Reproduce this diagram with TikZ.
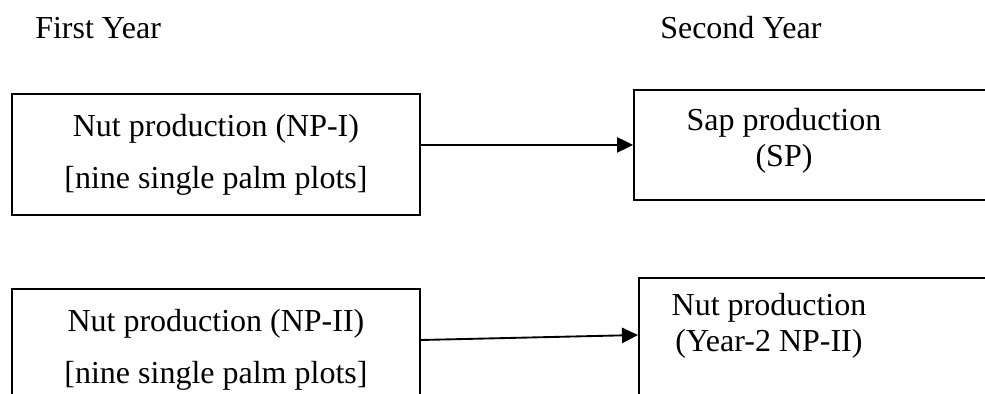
\documentclass[tikz,border=0pt]{standalone}
\usepackage{fontspec}
\setmainfont{Liberation Serif}
\usetikzlibrary{arrows.meta, calc}

\begin{document}
\begin{tikzpicture}[x=0.75pt, y=-0.75pt, >={Triangle[length=12pt, width=11.5pt]},
    box/.style={draw, line width=1.4pt, inner sep=0pt, anchor=north west},
    wide/.style={font=\fontsize{24}{39}\selectfont, align=center},
    tight/.style={font=\fontsize{24}{27}\selectfont, align=center, inner sep=0pt, anchor=base},
    head/.style={font=\fontsize{24}{29}\selectfont, inner sep=0pt, anchor=base west}]
    \useasboundingbox (0,0) rectangle (985,393);
    \clip (0,0) rectangle (985,393);

    % Year headings
    \node[head] (first) at (35,38) {First Year};
    \node[head] (second) at (660,38) {Second Year};

    % First year plots
    \node[box, wide, minimum width=306pt, minimum height=90.75pt] (np1) at (11,93)
        {Nut production (NP-I)\\{[}nine single palm plots{]}};
    \node[box, wide, minimum width=306pt, minimum height=90.75pt] (np2) at (11,288)
        {Nut production (NP-II)\\{[}nine single palm plots{]}};

    % Second year plots
    \node[box, minimum width=276pt, minimum height=82.5pt] (sp) at (633,89) {};
    \node[tight] (sptext) at (784,166) {Sap production\\(SP)};
    \node[box, minimum width=272pt, minimum height=97.5pt] (np2y) at (638,277) {};
    \node[tight] (np2ytext) at (769,351) {Nut production\\(Year-2 NP-II)};

    % Arrows
    \draw[->, line width=1.4pt] (np1.east |- sp.west) -- (sp.west);
    \draw[->, line width=1.4pt] ($(np2.north east)+(0,52)$) -- ($(np2y.north west)+(0,58)$);
\end{tikzpicture}
\end{document}
